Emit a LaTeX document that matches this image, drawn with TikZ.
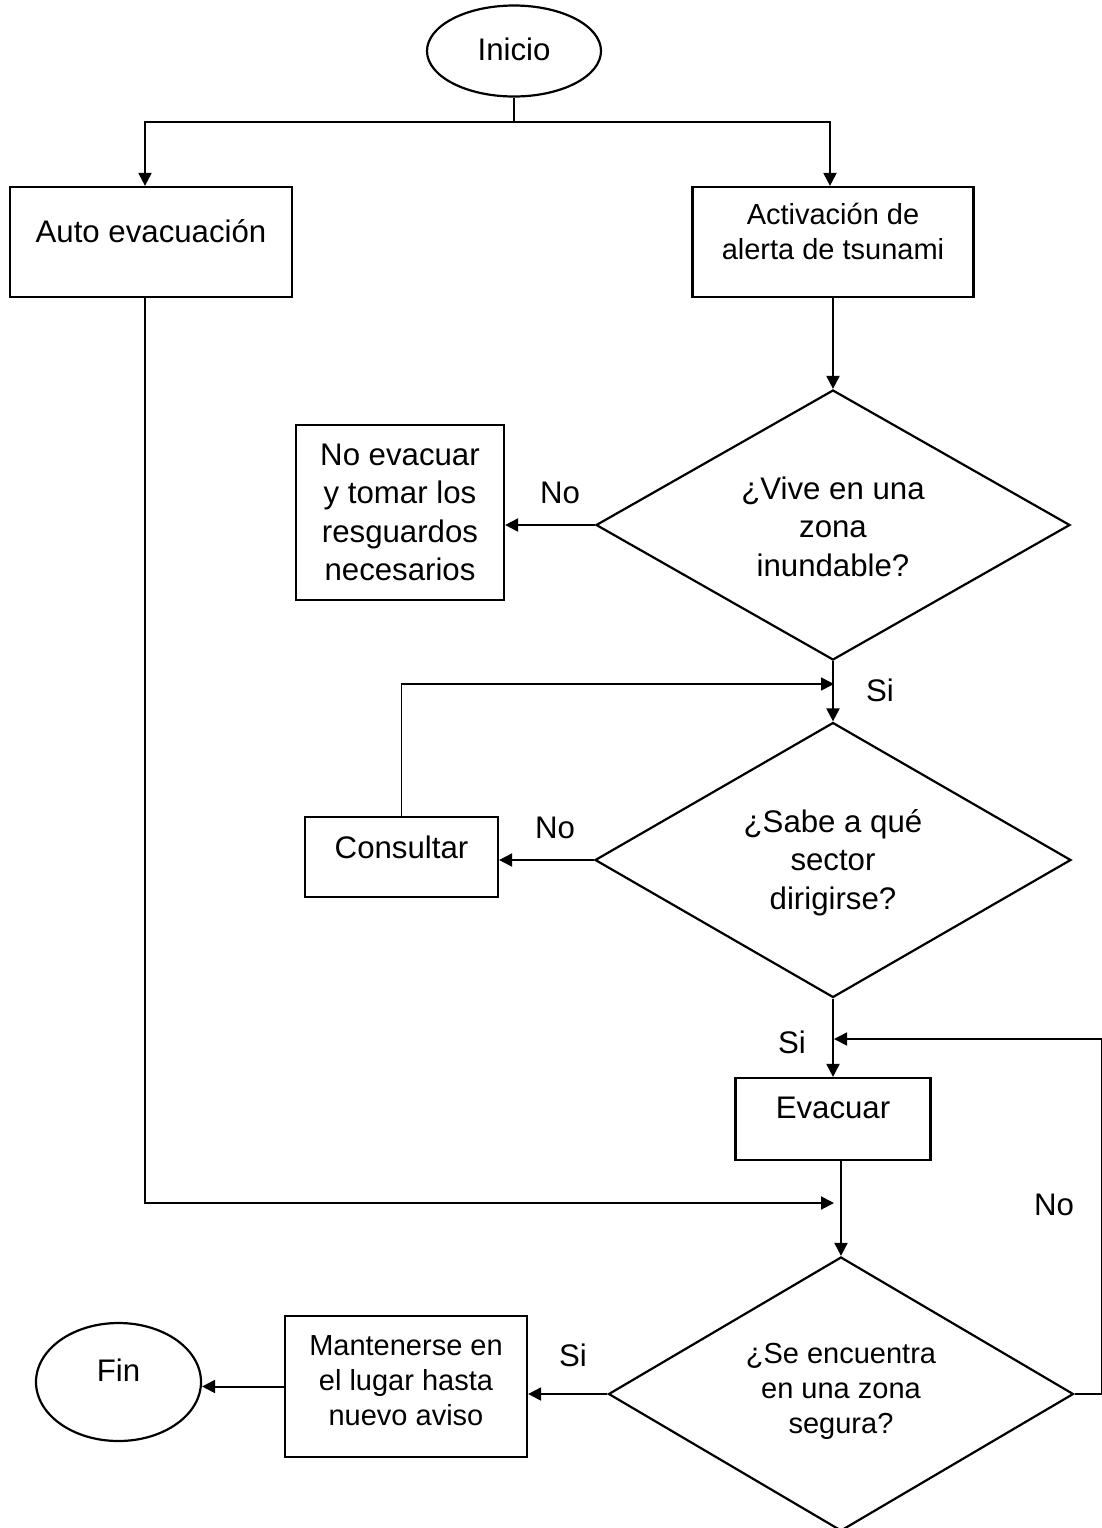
\documentclass[tikz,border=0pt]{standalone}
\usepackage{fontspec}
\setmainfont{Liberation Sans}
\usetikzlibrary{shapes.geometric,arrows.meta}
\newcommand{\btext}[2]{\raisebox{#1}[0pt][0pt]{\begin{tabular}{@{}c@{}}#2\end{tabular}}}
\tikzset{
  bigtxt/.style={font=\fontsize{15.6}{19.25}\selectfont},
  smalltxt/.style={font=\fontsize{14.5}{17.5}\selectfont},
  box/.style={draw, rectangle, line width=1.1pt, inner sep=0pt, bigtxt},
  dec/.style={draw, diamond, line width=1.1pt, inner sep=0pt, bigtxt},
  term/.style={draw, ellipse, line width=1.1pt, inner sep=0pt, bigtxt},
  arr/.style={line width=1pt, -{Triangle[length=6.5pt,width=6.5pt]}},
  lab/.style={bigtxt, inner sep=0pt},
}
\begin{document}
\begin{tikzpicture}[x=0.5pt,y=-0.5pt]
\useasboundingbox (0,0) rectangle (1102,1528);
% terminales
\node[term, minimum width=87pt, minimum height=45.5pt] (inicio) at (514,51) {\btext{-4.5pt}{Inicio}};
\node[term, minimum width=82.5pt, minimum height=59pt] (fin) at (118.5,1382) {\btext{0.5pt}{Fin}};
% cajas
\node[box, minimum width=141pt, minimum height=55pt] (auto) at (151,242) {\btext{0pt}{Auto evacuación}};
\node[box, smalltxt, minimum width=140.5pt, minimum height=55pt] (activ) at (833,242) {\btext{0pt}{Activación de\\alerta de tsunami}};
\node[box, minimum width=104pt, minimum height=87.5pt] (noevac) at (400,512.5) {\btext{-5pt}{No evacuar\\y tomar los\\resguardos\\necesarios}};
\node[box, minimum width=96.5pt, minimum height=40pt] (consultar) at (401.5,857) {\btext{-0.5pt}{Consultar}};
\node[box, minimum width=97.5pt, minimum height=41pt] (evac) at (833,1119) {\btext{0.5pt}{Evacuar}};
\node[box, smalltxt, minimum width=121pt, minimum height=70.5pt] (mant) at (406,1386.5) {\btext{-2pt}{Mantenerse en\\el lugar hasta\\nuevo aviso}};
% decisiones
\node[dec, minimum width=237pt, minimum height=135pt] (d1) at (833,525) {\btext{-6pt}{¿Vive en una\\zona\\inundable?}};
\node[dec, minimum width=238pt, minimum height=137.5pt] (d2) at (833,860) {\btext{-5pt}{¿Sabe a qué\\sector\\dirigirse?}};
\node[dec, smalltxt, minimum width=232.5pt, minimum height=137pt] (d3) at (841,1394) {\btext{-2.2pt}{¿Se encuentra\\en una zona\\segura?}};
% conectores
\coordinate (split) at (514,122);
\draw[line width=0.8pt] (inicio) -- (split);
\draw[arr] (split) -| ([xshift=-3pt]auto.north);
\draw[arr] (split) -| ([xshift=-1.5pt]activ.north);
\draw[arr] (activ) -- (d1);
\draw[arr] (d1.west) -- (d1.west -| noevac.east);
\draw[arr] (d1) -- (d2);
\coordinate (back1) at (834,684);
\draw[arr, line width=0.8pt] (consultar.north) |- (back1);
\draw[arr] (d2.west) -- (d2.west -| consultar.east);
\draw[arr] (d2) -- (evac);
\draw[arr] (evac.south -| d3.north) -- (d3.north);
\coordinate (join) at (834,1203);
\draw[arr] ([xshift=-3pt]auto.south) |- (join);
\draw[arr] (d3.west) -- (d3.west -| mant.east);
\draw[arr] (mant.west) -- (mant.west -| fin.east);
\coordinate (back2) at (834,1039);
\draw[arr, line width=0.8pt] (d3.east) -- ++(27,0) |- (back2);
% etiquetas
\node[lab] (no1) at (560,493) {No};
\node[lab] (si1) at (880,690) {Si};
\node[lab] (no2) at (555,828) {No};
\node[lab] (si2) at (792,1042) {Si};
\node[lab] (no3) at (1054,1205) {No};
\node[lab] (si3) at (573,1355) {Si};
\end{tikzpicture}
\end{document}
